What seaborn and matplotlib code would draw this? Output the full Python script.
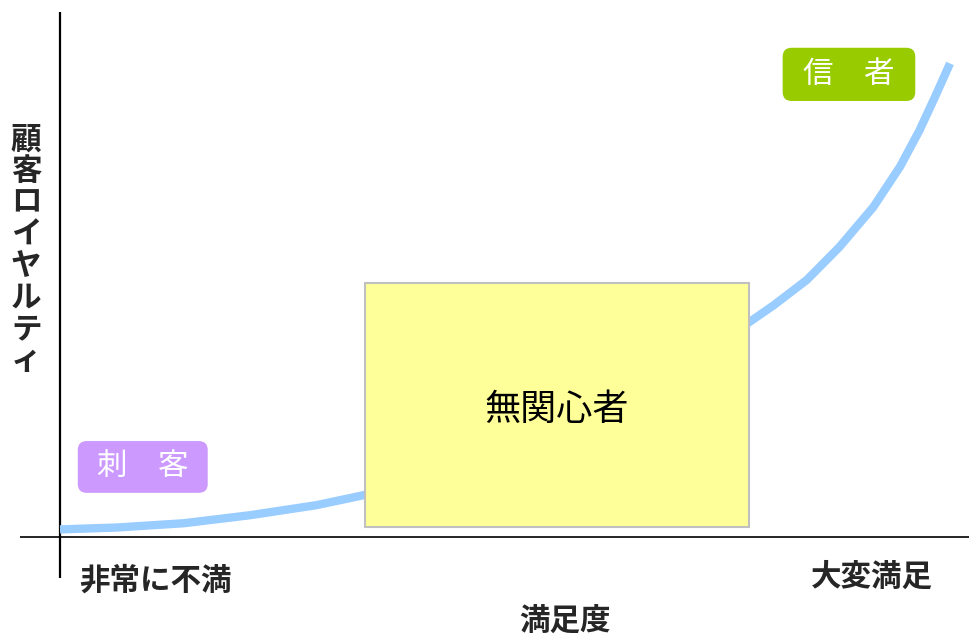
import matplotlib
matplotlib.use("Agg")
import matplotlib.pyplot as plt
from matplotlib.patches import FancyBboxPatch, Rectangle
import pandas as pd
import seaborn as sns

# Satisfaction (0-100) vs. customer loyalty (0-100)
satisfaction = [0, 6.4, 13.9, 21.4, 28.8, 34.1, 45, 55, 65, 77.5, 80.2, 83.9,
                87.6, 91.4, 94.4, 96.6, 98.5, 100]
loyalty = [1.6, 2.0, 2.9, 4.6, 6.7, 8.8, 14, 21, 30, 45.3, 48.8, 54.1,
           61.1, 69.5, 78.0, 85.7, 93.4, 99.7]

# Segment labels and the regions they occupy (x0, x1, y0, y1)
segment_names = ["刺　客", "無関心者", "信　者"]
segment_colors = ["#CC99FF", "#FFFF99", "#99CC00"]
segment_x0 = [2.0, 34.3, 81.2]
segment_x1 = [16.6, 77.4, 96.1]
segment_y0 = [9.3, 2.1, 91.8]
segment_y1 = [20.2, 53.5, 103.0]

axis_low_label = "非常に不満"
axis_high_label = "大変満足"
x_title = "満足度"
y_title = "顧客ロイヤルティ"

sns.set_theme(style="white")
plt.rcParams["font.family"] = ["Noto Sans CJK JP", "DejaVu Sans"]

W, H = 970, 637
fig = plt.figure(figsize=(W / 100, H / 100), dpi=100)
ax = fig.add_axes([20 / W, 59 / H, 950 / W, 566 / H])
ax.set_xlim(-4.494, 102.25)
ax.set_ylim(-8.63, 110.53)
ax.axis("off")

# Crossing axes
ax.axhline(0, color="black", lw=1.2, zorder=1)
ax.axvline(0, color="black", lw=1.6, zorder=1)

df = pd.DataFrame({"satisfaction": satisfaction, "loyalty": loyalty})
sns.lineplot(data=df, x="satisfaction", y="loyalty", ax=ax, color="#99CCFF",
             lw=6, solid_capstyle="butt", solid_joinstyle="round", zorder=2,
             legend=False)

for i, name in enumerate(segment_names):
    x0, x1, y0, y1 = segment_x0[i], segment_x1[i], segment_y0[i], segment_y1[i]
    cx, cy = (x0 + x1) / 2, (y0 + y1) / 2
    if name == "無関心者":
        ax.add_patch(Rectangle((x0, y0), x1 - x0, y1 - y0, facecolor=segment_colors[i],
                               edgecolor="#C0C0C0", lw=1.5, zorder=3))
        ax.text(cx, cy - 1.0, name, ha="center", va="center", fontsize=26,
                color="black", zorder=4)
    else:
        ax.add_patch(FancyBboxPatch((x0, y0), x1 - x0, y1 - y0,
                                    boxstyle="round,pad=0,rounding_size=1.0",
                                    mutation_aspect=1.87,
                                    facecolor=segment_colors[i], edgecolor="none", zorder=3))
        ax.text(cx, cy, name, ha="center", va="center", fontsize=22, color="white", zorder=4)

ax.text(2.2, -9.1, axis_low_label, ha="left", va="center", fontsize=22,
        fontweight="bold", clip_on=False)
ax.text(98.1, -8.4, axis_high_label, ha="right", va="center", fontsize=22,
        fontweight="bold", clip_on=False)
ax.text(56.7, -17.9, x_title, ha="center", va="center", fontsize=22, fontweight="bold",
        clip_on=False)
ax.text(-3.8, 60.4, "\n".join(y_title), ha="center", va="center", fontsize=22,
        fontweight="bold", linespacing=0.98)

fig.savefig("out.png", dpi=100)
